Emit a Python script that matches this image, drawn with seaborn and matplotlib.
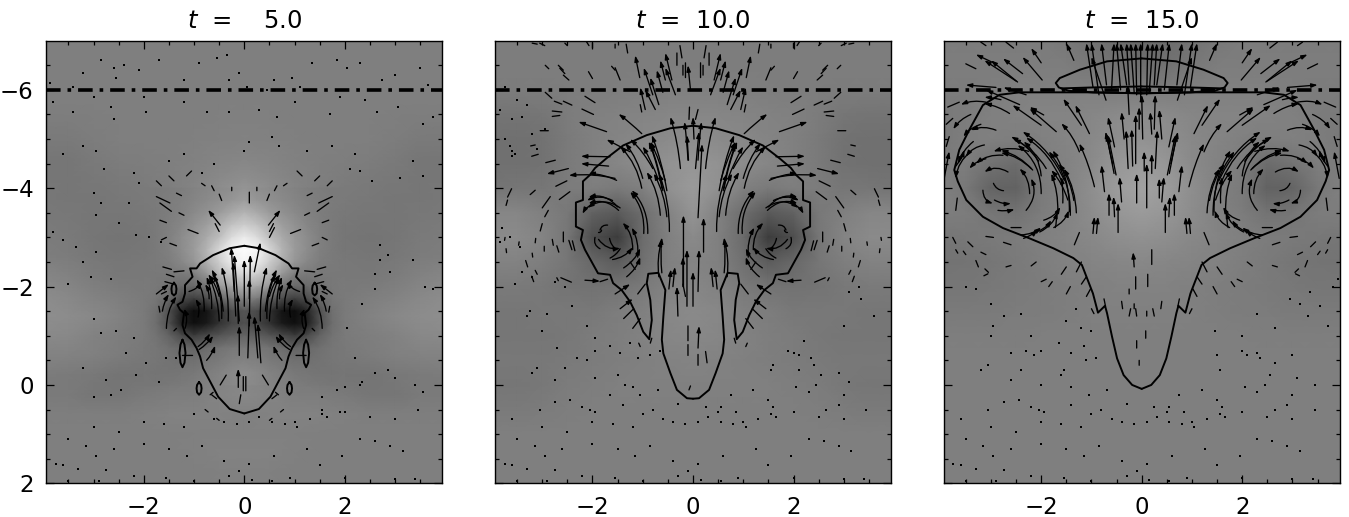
import numpy as np
import matplotlib
matplotlib.use('Agg')
import matplotlib.pyplot as plt
from matplotlib.patches import FancyArrowPatch
from matplotlib.transforms import Affine2D
import seaborn as sns

# 배경 밝기 (x = -4 ~ 0, 0.5 간격 / 오른쪽은 대칭)
gray_t5 = [  # y = -7.0 ~ 2.2, 0.4 간격
    [127, 127, 127, 127, 127, 127, 127, 127, 127],
    [127, 127, 127, 127, 127, 127, 127, 127, 127],
    [127, 127, 127, 127, 127, 127, 127, 127, 127],
    [127, 127, 127, 127, 127, 127, 127, 127, 127],
    [125, 125, 126, 127, 127, 127, 127, 128, 128],
    [122, 122, 125, 127, 127, 127, 128, 129, 130],
    [118, 118, 122, 125, 126, 127, 129, 132, 134],
    [118, 118, 120, 122, 124, 127, 131, 137, 142],
    [120, 118, 118, 120, 122, 125, 133, 144, 156],
    [121, 120, 118, 118, 120, 125, 138, 160, 185],
    [124, 122, 118, 116, 118, 122, 145, 185, 235],
    [126, 124, 120, 118, 120, 122, 140, 190, 250],
    [134, 130, 124, 120, 120, 120, 120, 170, 220],
    [140, 136, 130, 126, 122, 115, 90, 130, 170],
    [142, 140, 136, 130, 122, 90, 30, 60, 92],
    [138, 136, 130, 126, 122, 105, 70, 88, 100],
    [130, 130, 128, 124, 120, 115, 105, 118, 125],
    [124, 122, 120, 116, 116, 118, 122, 130, 135],
    [122, 122, 118, 118, 122, 125, 126, 132, 136],
    [126, 126, 126, 126, 128, 130, 130, 130, 128],
    [127, 127, 127, 127, 127, 127, 128, 128, 128],
    [127, 127, 127, 127, 127, 127, 128, 130, 130],
    [127, 127, 127, 127, 127, 127, 127, 128, 128],
    [127, 127, 127, 127, 127, 127, 127, 127, 127],
]
# 가운데 부분만 더 촘촘히 (x = -2 ~ 0, 0.25 간격 / y = -4 ~ 0, 0.25 간격)
gray_t5_core = [
    [122, 122, 124, 126, 130, 134, 138, 142, 148],
    [122, 123, 125, 128, 133, 138, 144, 150, 158],
    [120, 122, 125, 130, 138, 146, 155, 170, 180],
    [118, 122, 127, 134, 146, 158, 175, 195, 205],
    [118, 122, 128, 140, 152, 170, 190, 220, 235],
    [118, 122, 128, 140, 155, 180, 215, 245, 252],
    [120, 122, 125, 135, 150, 175, 205, 235, 245],
    [120, 120, 120, 122, 125, 150, 185, 205, 215],
    [122, 120, 115, 105, 105, 115, 150, 165, 175],
    [122, 118, 105, 75, 60, 75, 100, 120, 130],
    [122, 112, 80, 35, 12, 20, 50, 75, 85],
    [122, 110, 80, 30, 15, 25, 50, 70, 80],
    [122, 115, 100, 75, 60, 75, 85, 95, 100],
    [120, 118, 112, 105, 100, 108, 115, 120, 122],
    [120, 118, 115, 112, 112, 118, 122, 128, 130],
    [118, 116, 116, 118, 120, 125, 130, 136, 140],
    [118, 118, 120, 122, 125, 128, 132, 136, 138],
]
gray_t10 = [  # y = -7.0 ~ 2.0, 0.5 간격
    [125, 125, 125, 125, 125, 125, 125, 125, 125],
    [125, 125, 125, 125, 125, 125, 125, 125, 125],
    [124, 124, 124, 125, 125, 126, 127, 128, 128],
    [116, 116, 118, 124, 128, 130, 132, 134, 134],
    [112, 112, 114, 122, 128, 132, 136, 138, 140],
    [112, 112, 114, 122, 128, 134, 140, 146, 150],
    [116, 118, 118, 124, 126, 122, 128, 144, 154],
    [134, 134, 128, 120, 98, 90, 110, 130, 148],
    [138, 138, 132, 118, 78, 60, 108, 128, 138],
    [130, 130, 126, 118, 104, 92, 112, 128, 132],
    [122, 122, 120, 116, 114, 116, 122, 130, 135],
    [118, 118, 120, 120, 120, 125, 128, 135, 138],
    [118, 118, 118, 120, 124, 126, 130, 134, 136],
    [120, 120, 120, 122, 124, 126, 128, 130, 132],
    [118, 118, 120, 124, 126, 128, 128, 128, 128],
    [122, 122, 124, 126, 127, 127, 127, 127, 127],
    [127, 127, 127, 127, 127, 127, 127, 127, 127],
    [127, 127, 127, 127, 127, 127, 127, 127, 127],
    [127, 127, 127, 127, 127, 127, 127, 127, 127],
]
gray_t15 = [  # y = -7.0 ~ 2.0, 0.5 간격
    [124, 124, 124, 124, 124, 120, 114, 108, 104],
    [125, 125, 125, 125, 125, 125, 120, 114, 110],
    [124, 124, 126, 128, 128, 128, 128, 125, 125],
    [122, 124, 128, 130, 132, 132, 134, 138, 140],
    [120, 126, 128, 126, 128, 132, 136, 142, 146],
    [124, 125, 115, 108, 124, 130, 138, 150, 156],
    [128, 120, 100, 98, 122, 130, 142, 156, 162],
    [126, 124, 118, 115, 124, 130, 140, 150, 155],
    [118, 120, 122, 124, 128, 132, 136, 142, 145],
    [115, 116, 118, 122, 126, 130, 132, 134, 136],
    [118, 118, 120, 122, 124, 126, 128, 130, 130],
    [122, 122, 122, 124, 124, 126, 128, 128, 128],
    [126, 126, 126, 126, 127, 127, 127, 127, 127],
    [127, 127, 127, 127, 127, 127, 127, 127, 127],
    [127, 127, 127, 127, 127, 127, 127, 127, 127],
    [127, 127, 127, 127, 127, 127, 127, 127, 127],
    [127, 127, 127, 127, 127, 127, 127, 127, 127],
    [127, 127, 127, 127, 127, 127, 127, 127, 127],
    [127, 127, 127, 127, 127, 127, 127, 127, 127],
]

# 외곽선 왼쪽 절반 (x, y)
contour_t5 = [(0, -2.83), (-0.29, -2.78), (-0.62, -2.64), (-0.88, -2.47), (-0.95, -2.37), (-1.08, -2.37),
              (-1.03, -2.2), (-1.18, -2.03), (-1.18, -1.86), (-1.23, -1.69), (-1.33, -1.63), (-1.28, -1.53),
              (-1.2, -1.46), (-1.23, -1.22), (-1.18, -1.05), (-1.05, -0.92), (-0.95, -0.75), (-0.88, -0.58),
              (-0.82, -0.34), (-0.68, -0.07), (-0.52, 0.24), (-0.29, 0.49), (0, 0.58)]
loops_t5 = [
    [(-1.4, -2.08), (-1.36, -2.02), (-1.35, -1.95), (-1.36, -1.86), (-1.4, -1.82), (-1.44, -1.86), (-1.45, -1.95),
     (-1.44, -2.02), (-1.4, -2.08)],
    [(-1.23, -0.92), (-1.19, -0.82), (-1.17, -0.65), (-1.19, -0.45), (-1.23, -0.36), (-1.27, -0.45), (-1.29, -0.65),
     (-1.27, -0.82), (-1.23, -0.92)],
    [(-0.9, -0.06), (-0.86, 0), (-0.85, 0.07), (-0.86, 0.15), (-0.9, 0.2), (-0.94, 0.15), (-0.95, 0.07), (-0.94, 0),
     (-0.9, -0.06)],
]
contour_t10 = [(0, -5.27), (-0.45, -5.22), (-0.92, -5.08), (-1.39, -4.87), (-1.72, -4.61), (-1.95, -4.41),
               (-2.05, -4.27), (-2.19, -4.14), (-2.19, -3.76), (-2.33, -3.71), (-2.33, -3.22), (-2.19, -3.15),
               (-2.23, -2.95), (-2.15, -2.75), (-2.02, -2.51), (-1.89, -2.27), (-1.65, -2.24), (-1.59, -2.07),
               (-1.42, -1.93), (-1.25, -1.69), (-1.12, -1.42), (-0.99, -1.08), (-0.87, -0.93), (-0.82, -1.32),
               (-0.85, -1.73), (-0.92, -2.07), (-0.89, -2.26), (-0.69, -2.28), (-0.55, -1.93), (-0.59, -1.39),
               (-0.62, -0.92), (-0.59, -0.64), (-0.45, -0.24), (-0.32, 0.1), (-0.12, 0.27), (0, 0.28)]
contour_t15 = [(0, -5.93), (-1.09, -5.95), (-2.43, -5.95), (-2.83, -5.9), (-3.16, -5.69), (-3.43, -5.19),
               (-3.63, -4.78), (-3.73, -4.37), (-3.66, -4.14), (-3.49, -3.76), (-3.16, -3.42), (-2.76, -3.19),
               (-2.23, -2.98), (-1.76, -2.78), (-1.36, -2.58), (-1.19, -2.44), (-0.97, -1.86), (-0.87, -1.47),
               (-0.73, -1.61), (-0.69, -1.46), (-0.59, -0.98), (-0.49, -0.54), (-0.36, -0.2), (-0.19, 0), (0, 0.08)]
lens_t15 = [(0, -6.64), (-0.69, -6.58), (-1.23, -6.41), (-1.63, -6.24), (-1.71, -6.14), (-1.65, -6.05), (-1.45, -5.98),
            (-0.96, -5.95), (0, -5.93)]
lens2_t15 = [(-1.6, -6.03), (-0.96, -6.05), (0, -6.07)]

# 화살표: 시작 x, y, 끝 x, y, 곡률 (side 는 좌우 대칭으로 그림)
center_t5 = [
    (-0.1, -0.6, -0.1, -1.2, 0), (-0.12, -1.25, -0.13, -1.85, 0), (-0.17, -1.4, -0.22, -2.5, 0),
    (-0.2, -1.9, -0.26, -2.8, 0), (0, -1.6, 0, -2.55, 0), (0.07, -0.55, 0.1, -1.5, 0),
    (0.1, -1.75, 0.1, -2.15, 0), (0.27, -0.55, 0.2, -1.4, 0), (0.33, -0.45, 0.27, -1.25, 0),
    (-0.12, 0.05, -0.12, -0.33, 0), (-0.02, 0.12, -0.02, -0.17, 0), (0.03, 0.12, 0.03, -0.17, 0),
    (-0.1, 0.38, -0.07, 0.2, 0), (0.2, -2.3, 0.32, -2.9, 0), (0.1, -1.2, 0.12, -2.65, 0),
    (-0.1, -1.3, -0.2, -2.65, 0), (0.5, -3.0, 0.6, -3.2, 0), (0.1, -3.7, 0.1, -3.92, 0),
]
side_t5 = [
    (-0.48, -3.25, -0.72, -3.56, 0), (-0.5, -3.12, -0.58, -3.28, 0), (-0.92, -3.08, -1.12, -3.16, 0),
    (-1.48, -3.7, -1.75, -3.83, 0), (-1.45, -3.53, -1.68, -3.7, 0), (-1.35, -2.83, -1.48, -2.88, 0),
    (-0.32, -1.3, -0.45, -2.4, 0.08), (-0.42, -1.5, -0.65, -2.35, 0.1), (-0.5, -1.8, -0.72, -2.25, 0.1),
    (-0.5, -1.3, -0.7, -2.2, 0.1), (-0.45, -1.35, -0.62, -2.25, 0.12), (-0.65, -1.55, -0.75, -2.2, 0.1),
    (-0.92, -1.38, -0.97, -1.75, 0.2), (-1.18, -1.15, -1.2, -1.55, 0.2), (-0.7, -1.75, -0.78, -2.05, 0.15),
    (-0.92, -0.78, -0.68, -1.05, 0.1), (-0.75, -0.5, -0.58, -0.8, 0.1), (-0.48, 0, -0.36, -0.2, 0),
    (-0.9, -0.72, -0.62, -1.0, 0.1), (-1.23, -0.6, -1.03, -0.6, 0), (-0.68, 0.2, -0.62, 0.15, 0),
    (-1.1, -1.9, -0.85, -2.1, 0.2), (-0.8, -1.5, -0.95, -2.15, 0.15),
    (-1.55, -1.15, -1.35, -1.8, -0.15), (-1.63, -1.5, -1.5, -1.85, -0.1), (-1.75, -1.85, -1.5, -2.05, 0),
    (-1.45, -2.35, -1.62, -2.4, 0), (-1.4, -2.2, -1.55, -2.25, 0), (-1.2, -2.32, -1.4, -2.3, 0),
    (-1.4, -2.05, -1.58, -2.1, 0), (-1.7, -1.6, -1.68, -1.48, 0), (-1.55, -1.9, -1.65, -1.85, 0),
    (-0.6, -3.95, -0.65, -4.05, 0), (-0.78, -4.05, -0.85, -4.1, 0), (-1.55, -3.3, -1.68, -3.35, 0),
    (-1.4, -4.15, -1.5, -4.25, 0), (-0.45, -3.75, -0.5, -3.88, 0), (-0.25, -3.95, -0.25, -4.02, 0),
    (-0.55, 0.28, -0.65, 0.2, 0), (-0.78, 0.5, -0.72, 0.55, 0), (-0.5, 0.72, -0.55, 0.68, 0),
    (-1.4, -1.1, -1.35, -1.15, 0), (-1.2, -3.45, -1.3, -3.5, 0), (-1.25, -3.85, -1.35, -3.9, 0),
    (-1.15, -4.25, -1.05, -4.35, 0), (-1.65, -4.05, -1.75, -4.15, 0), (-1.65, -2.95, -1.55, -3.0, 0),
]
center_t10 = [
    (-0.19, -2.0, -0.19, -3.45, 0), (0.21, -2.7, 0.21, -3.4, 0), (-0.12, -1.6, -0.12, -2.75, 0),
    (0.1, -1.9, 0.12, -2.75, 0), (-0.2, -2.0, -0.2, -2.6, 0), (0, -1.6, 0, -2.3, 0),
    (0.1, -3.4, 0.18, -4.9, 0), (0.05, -4.4, 0.12, -5.15, 0), (-0.09, -4.57, -0.12, -5.08, 0),
    (0.1, -0.75, 0.12, -1.2, 0), (-0.1, -0.9, -0.1, -1.2, 0), (0.1, -0.4, 0.1, -0.62, 0),
    (0.28, -0.45, 0.25, -0.68, 0), (-0.08, 0.1, -0.05, 0.02, 0), (-0.1, -0.6, -0.1, -0.82, 0),
    (0.02, -5.0, 0, -5.45, 0), (-0.08, -5.4, -0.07, -5.65, 0), (-0.05, -6.0, -0.1, -6.5, 0),
    (0.05, -5.4, 0.1, -5.6, 0), (-0.15, -1.8, -0.2, -2.05, 0), (-0.3, -1.4, -0.32, -2.0, 0),
]
side_t10 = [
    (-1.02, -5.11, -1.48, -5.51, 0.03), (-1.72, -5.15, -2.28, -5.35, 0), (-1.25, -4.74, -1.72, -4.99, 0),
    (-1.98, -5.5, -2.21, -5.61, 0), (-1.95, -5.74, -2.15, -5.87, 0), (-2.41, -5.69, -2.58, -5.77, 0),
    (-2.61, -5.71, -2.76, -5.77, 0), (-2.81, -5.83, -2.94, -5.95, 0), (-2.65, -5.48, -2.8, -5.46, 0),
    (-2.61, -5.55, -2.8, -5.57, 0), (-2.88, -5.17, -3.04, -5.17, 0), (-3.14, -4.88, -3.23, -4.86, 0),
    (-3.08, -4.69, -3.21, -4.65, 0), (-2.74, -4.57, -2.93, -4.52, 0),
    (-1.65, -4.64, -2.23, -4.65, 0), (-1.68, -4.45, -2.23, -4.5, 0), (-2.48, -4.4, -2.91, -4.29, 0),
    (-1.52, -4.16, -2.08, -4.3, 0.1), (-1.55, -4.2, -2.47, -4.26, 0.08), (-2.51, -4.15, -2.73, -4.04, 0),
    (-2.45, -3.93, -2.66, -3.77, 0), (-3.14, -3.96, -3.24, -3.87, 0), (-2.84, -3.83, -3.0, -3.6, 0),
    (-2.88, -3.55, -2.95, -3.42, 0), (-3.0, -3.28, -3.04, -3.13, 0), (-3.61, -3.99, -3.69, -3.82, 0),
    (-3.69, -3.76, -3.72, -3.65, 0), (-3.74, -3.0, -3.75, -2.94, 0), (-3.46, -2.91, -3.47, -2.84, 0),
    (-3.13, -2.98, -3.14, -2.89, 0), (-2.8, -2.96, -2.78, -2.84, 0), (-2.58, -3.11, -2.58, -2.91, 0),
    (-2.71, -2.83, -2.67, -2.7, 0), (-2.47, -2.94, -2.41, -2.75, 0), (-2.4, -2.93, -2.35, -2.73, 0),
    (-2.96, -2.82, -2.96, -2.72, 0), (-3.2, -2.68, -3.19, -2.6, 0), (-3.72, -2.77, -3.71, -2.69, 0),
    (-3.33, -2.53, -3.29, -2.4, 0), (-3.14, -2.33, -3.1, -2.25, 0), (-3.21, -2.21, -3.17, -2.1, 0),
    (-2.63, -2.18, -2.42, -2.09, 0), (-2.15, -2.13, -1.85, -2.11, 0), (-2.71, -2.18, -2.68, -2.12, 0),
    (-1.48, -3.55, -2.08, -3.69, 0.3), (-1.5, -3.62, -2.08, -3.82, 0.3), (-1.6, -3.75, -2.11, -3.75, 0.25),
    (-1.95, -3.69, -2.2, -3.48, 0.2), (-1.95, -3.0, -1.85, -2.77, 0.4), (-1.88, -3.1, -1.82, -3.15, 0.5),
    (-1.7, -3.25, -1.85, -3.15, 0.4), (-1.88, -2.96, -1.45, -2.78, 0.3), (-1.66, -2.98, -1.53, -2.76, 0.2),
    (-1.65, -2.58, -1.45, -2.77, 0.15), (-1.38, -2.38, -1.05, -2.78, 0.15), (-1.32, -2.2, -1.05, -2.6, 0.15),
    (-1.15, -2.35, -1.25, -2.5, 0), (-0.98, -3.08, -1.25, -3.93, 0.2), (-0.9, -3.08, -1.22, -3.96, 0.2),
    (-0.65, -3.45, -0.92, -4.33, 0.12), (-0.52, -3.42, -0.78, -4.3, 0.1), (-0.47, -3.12, -0.68, -4.3, 0.1),
    (-0.25, -4.4, -0.45, -5.45, 0.05), (-0.1, -4.57, -0.17, -5.35, 0.02), (-0.52, -3.95, -0.82, -5.08, 0.05),
    (-0.55, -4.15, -0.85, -4.95, 0.05), (-0.6, -3.95, -0.85, -4.9, 0.05), (-0.62, -4.0, -0.88, -4.95, 0.05),
    (-1.02, -4.0, -1.45, -4.85, 0.15), (-1.0, -4.2, -1.35, -4.92, 0.1), (-0.62, -2.28, -0.62, -3.0, -0.05),
    (-0.68, -2.2, -0.62, -2.95, -0.1), (-0.95, -2.05, -1.1, -1.85, 0), (-1.85, -2.1, -1.7, -2.15, 0),
    (-0.4, -2.0, -0.36, -2.4, 0), (-0.48, -1.95, -0.44, -2.35, 0), (-1.55, -1.85, -1.25, -2.05, 0),
    (-1.45, -1.55, -1.2, -1.75, 0), (-1.38, -1.35, -1.18, -1.55, 0), (-1.2, -1.15, -1.05, -1.35, 0),
    (-0.82, -0.95, -0.85, -0.85, 0), (-1.08, -0.85, -1.05, -0.78, 0),
    (-1.45, -3.6, -2.1, -3.6, 0.35), (-1.2, -2.75, -1.4, -3.3, 0.2), (-1.1, -2.6, -1.22, -3.2, 0.15),
    (-1.6, -2.55, -1.2, -2.8, 0.2), (-0.8, -4.4, -1.25, -5.0, 0.08), (-0.7, -4.2, -1.0, -4.85, 0.05),
    # 위쪽
    (-1.02, -5.55, -1.05, -5.7, 0), (-0.95, -5.6, -1.05, -6.05, 0), (-0.75, -5.6, -0.95, -6.0, 0),
    (-0.8, -5.9, -0.98, -6.45, 0), (-0.68, -5.7, -0.85, -6.25, 0), (-0.42, -6.2, -0.55, -6.75, 0),
    (-0.35, -5.9, -0.55, -6.45, 0), (-0.2, -6.3, -0.2, -6.5, 0), (-0.15, -6.25, -0.15, -6.55, 0),
    (-0.32, -6.5, -0.32, -6.75, 0), (-0.22, -6.65, -0.26, -6.9, 0), (-1.06, -6.25, -1.15, -6.7, 0),
    (-1.3, -6.75, -1.33, -6.93, 0), (-1.45, -6.2, -1.55, -6.45, 0), (-1.55, -6.4, -1.62, -6.48, 0),
    (-2.0, -6.23, -2.08, -6.37, 0), (-2.55, -6.33, -2.65, -6.44, 0), (-2.47, -6.2, -2.58, -6.3, 0),
    (-2.58, -6.4, -2.68, -6.5, 0), (-2.87, -6.43, -2.94, -6.5, 0), (-2.95, -6.9, -3.05, -6.95, 0),
    (-3.1, -6.93, -3.2, -6.95, 0), (-2.5, -6.9, -2.55, -6.95, 0), (-2.07, -6.9, -2.12, -6.98, 0),
    (-2.0, -6.95, -2.0, -6.85, 0), (-1.55, -6.93, -1.55, -6.85, 0), (-0.55, -6.2, -0.65, -6.6, 0),
    (-0.6, -5.95, -0.72, -6.4, 0),
]
dots_upper_t10 = [(-3.75, -6.05), (-3.5, -5.8), (-3.3, -5.7), (-3.85, -5.6), (-3.6, -5.4), (-3.4, -5.45), (-3.2, -5.1),
                  (-3.75, -5.0), (-3.6, -4.65), (-3.65, -4.85), (-3.6, -4.75), (-3.55, -4.7), (-3.1, -4.8), (-2.95, -5.2),
                  (-3.8, -3.2), (-3.65, -3.0), (-3.85, -2.9), (-3.45, -2.8), (-3.4, -2.3), (-3.55, -2.05), (-3.2, -2.2),
                  (-2.75, -2.1), (-2.55, -2.0), (-2.4, -1.6), (-2.1, -1.2), (-1.95, -0.95), (-2.9, -1.45), (-3.25, -1.5),
                  (-3.3, -1.4), (-3.0, -1.1), (-2.7, -0.75), (-2.1, -0.5), (-1.95, -0.7), (-1.65, -0.8), (-1.25, -0.85),
                  (-1.45, -0.65), (-2.3, -0.55), (-1.1, -0.55), (-0.85, -0.6), (-0.65, -0.7), (-3.1, -0.35), (-3.2, -0.25),
                  (-2.55, -0.35), (-2.75, -0.1), (-1.95, -0.15), (-1.5, -0.2), (-1.35, 0.0), (-1.65, 0.2), (-1.2, 0.05),
                  (3.1, -1.9), (3.3, -2.0), (3.35, -1.75), (3.6, -1.4), (3.0, -1.2), (2.2, -0.9), (2.0, -0.65), (1.9, -0.7),
                  (1.6, -0.4), (2.1, -0.3), (2.4, -0.4), (2.9, -0.25), (3.1, -0.05)]
dots_lower = [(-3.05, 0.5), (-2.75, 0.35), (-2.45, 0.3), (-2.2, 0.45), (-2.05, 0.5), (-1.95, 0.55), (-1.4, 0.4),
              (-1.05, 0.2), (-0.8, 0.5), (-0.7, 0.1), (-0.3, 0.38), (0.25, 0.45), (0.55, 0.45), (0.5, 0.55),
              (0.85, 0.55), (0.75, 0.2), (1.2, 0.1), (1.5, 0.3), (1.6, 0.45), (2.05, 0.05), (2.3, 0.15), (2.45, 0.0),
              (2.55, -0.2), (2.35, -0.55), (2.1, -0.6), (1.55, -0.3), (2.65, 0.5), (2.9, 0.4), (3.0, 0.2),
              (-3.6, 0.7), (-3.0, 0.85), (-2.5, 0.95), (-2.0, 0.75), (-1.6, 0.8), (-1.2, 0.85), (-1.0, 0.6), (-0.6, 0.7),
              (-0.4, 0.75), (-0.15, 0.8), (0.1, 0.75), (0.3, 0.65), (0.55, 0.75), (0.8, 0.8), (1.0, 0.75), (1.05, 0.85),
              (1.3, 0.7), (1.55, 0.6), (1.65, 0.65), (2.0, 0.55), (2.5, 0.65), (3.0, 0.7), (3.45, 0.5),
              (-3.5, 1.1), (-3.15, 1.25), (-2.95, 1.45), (-2.6, 1.3), (-2.0, 1.2), (-1.5, 1.3), (-1.15, 1.45),
              (-0.85, 1.25), (-0.4, 1.55), (0.1, 1.6), (0.6, 1.45), (1.25, 1.3), (1.95, 1.45), (2.3, 1.1), (2.6, 1.15),
              (2.9, 1.25), (3.15, 1.35), (-3.75, 1.6), (-3.6, 1.62), (-3.3, 1.7), (-2.75, 1.72), (-2.2, 1.85),
              (-1.55, 1.9), (-1.0, 1.95), (-0.3, 1.85), (0.15, 1.93), (0.55, 1.95), (0.9, 1.9), (2.0, 1.9), (3.0, 1.92),
              (3.4, 1.92), (-3.5, 1.95), (-2.9, 1.95), (-0.1, 1.75), (1.5, 1.62)]
center_t15 = [
    (0.1, -3.6, 0.1, -4.5, 0), (-0.12, -4.5, -0.12, -5.5, 0), (0.05, -4.35, 0.05, -4.75, 0),
    (-0.18, -4.45, -0.2, -5.2, 0), (0.02, -5.0, 0, -5.9, 0), (-0.05, -5.2, -0.05, -5.65, 0),
    (0.4, -5.0, 0.35, -5.6, 0), (-0.35, -5.0, -0.4, -5.55, 0), (0.2, -5.1, 0.17, -5.55, 0),
    (0.2, -4.3, 0.2, -4.7, 0), (-0.15, -2.4, -0.17, -2.7, 0), (0.2, -2.45, 0.2, -2.75, 0),
    (0.12, -2.0, 0.12, -2.25, 0), (-0.12, -1.95, -0.12, -2.2, 0), (-0.15, -1.55, -0.15, -1.65, 0),
    (-0.25, -1.85, -0.25, -1.95, 0), (0.1, -1.4, 0.1, -1.5, 0), (-0.1, -1.4, -0.12, -1.55, 0),
    (0.08, -0.95, 0.08, -1.1, 0), (-0.1, -0.75, -0.1, -0.9, 0), (-0.05, -0.4, -0.05, -0.5, 0),
    (-0.02, -5.8, -0.02, -6.95, 0), (0.3, -6.1, 0.42, -6.95, 0), (-0.3, -6.1, -0.42, -6.95, 0),
    (-0.15, -5.95, -0.22, -6.95, 0), (0.15, -5.95, 0.22, -6.95, 0), (-0.42, -6.0, -0.5, -6.95, 0),
    (0.45, -6.0, 0.55, -6.95, 0), (-0.6, -6.0, -0.55, -6.95, 0), (-0.25, -5.5, -0.28, -6.1, 0),
    (0.25, -5.2, 0.27, -5.9, 0), (-0.1, -3.7, -0.1, -4.3, 0), (0.35, -3.8, 0.35, -4.2, 0),
]
side_t15 = [
    (-2.86, -3.55, -2.53, -3.57, 0.1), (-2.93, -3.76, -2.6, -3.69, 0.15), (-3.16, -3.96, -2.96, -3.69, 0.35),
    (-2.66, -4.33, -3.13, -4.33, 0.3), (-2.23, -3.89, -2.43, -4.4, 0.2), (-2.0, -3.89, -2.47, -4.88, 0.25),
    (-2.17, -4.37, -2.8, -4.77, 0.15), (-2.2, -4.4, -2.8, -4.72, 0.15), (-2.76, -4.67, -3.3, -4.5, 0.2),
    (-3.1, -4.6, -3.43, -4.4, 0.15), (-3.13, -4.88, -3.5, -4.64, 0.2), (-2.9, -5.18, -3.4, -5.18, 0.2),
    (-1.54, -4.16, -2.37, -5.15, 0.15), (-1.6, -4.16, -2.3, -5.03, 0.15), (-1.44, -3.52, -1.77, -4.77, 0.15),
    (-1.47, -3.76, -1.8, -4.37, 0.1), (-1.57, -3.7, -1.6, -4.23, 0.05), (-1.67, -3.52, -1.8, -4.3, 0.1),
    (-2.03, -3.11, -1.67, -3.52, 0.2), (-2.35, -2.98, -2.07, -3.15, 0.1), (-1.72, -3.2, -1.7, -3.45, 0.1),
    (-2.6, -3.2, -2.4, -3.2, 0), (-3.1, -3.02, -2.95, -3.0, 0), (-2.75, -2.9, -2.6, -2.85, 0),
    (-1.98, -6.2, -2.37, -6.67, 0), (-2.37, -6.33, -2.76, -6.64, 0), (-2.47, -6.16, -3.0, -6.6, 0),
    (-2.5, -6.18, -3.13, -6.6, 0), (-3.3, -6.43, -3.5, -6.53, 0), (-2.63, -5.52, -3.13, -5.72, 0.1),
    (-2.8, -5.8, -3.13, -5.85, 0.05), (-2.0, -5.28, -2.57, -5.69, 0), (-1.95, -5.49, -2.23, -5.65, 0),
    (-1.7, -5.15, -2.23, -5.62, 0), (-2.43, -5.7, -3.1, -6.0, 0), (-2.3, -5.9, -2.75, -6.05, 0),
    (-2.9, -6.05, -3.5, -6.1, 0), (-3.1, -5.75, -3.6, -5.7, 0.15), (-1.24, -4.74, -1.6, -5.32, 0.1),
    (-1.04, -5.11, -1.32, -5.69, 0), (-1.2, -5.28, -1.56, -5.82, 0), (-0.94, -4.03, -1.24, -4.91, 0.05),
    (-0.74, -3.93, -0.8, -4.47, 0), (-0.71, -5.79, -1.0, -6.67, 0), (-0.97, -6.06, -1.1, -6.95, 0),
    (-0.54, -4.84, -0.67, -5.45, 0), (-0.51, -4.27, -0.67, -5.08, 0), (-0.55, -4.3, -0.7, -5.1, 0),
    (-0.58, -4.5, -0.72, -5.15, 0), (-0.27, -4.4, -0.31, -5.18, 0), (-0.4, -3.72, -0.44, -4.23, 0),
    (-0.65, -3.45, -0.65, -3.9, 0), (-0.54, -3.42, -0.56, -3.83, 0), (-0.47, -3.1, -0.47, -3.7, 0),
    (-0.97, -3.08, -0.94, -3.42, 0), (-0.9, -3.08, -0.87, -3.42, 0), (-1.34, -2.85, -1.24, -3.1, 0),
    (-2.0, -6.55, -2.2, -6.85, 0), (-2.95, -6.55, -3.3, -6.72, 0), (-1.35, -6.6, -1.5, -6.95, 0),
    (-2.55, -6.85, -2.7, -6.97, 0), (-3.1, -6.9, -3.2, -6.97, 0),
    (-3.86, -5.65, -3.63, -5.75, 0), (-3.89, -5.3, -3.76, -5.42, 0), (-3.89, -4.85, -3.83, -5.05, 0),
    (-3.93, -4.2, -3.83, -4.75, 0), (-3.7, -4.45, -3.53, -4.78, 0.1), (-3.7, -3.55, -3.67, -3.8, 0),
    (-3.76, -3.0, -3.7, -2.88, 0), (-3.46, -2.91, -3.36, -2.81, 0), (-3.7, -2.75, -3.66, -2.68, 0),
    (-3.55, -2.72, -3.5, -2.65, 0), (-3.2, -2.7, -3.1, -2.65, 0), (-3.3, -2.53, -3.25, -2.4, 0),
    (-3.12, -2.36, -3.05, -2.29, 0), (-3.14, -2.22, -3.06, -2.26, 0), (-2.7, -2.4, -2.6, -2.43, 0),
    (-2.2, -2.42, -2.1, -2.5, 0), (-2.0, -2.1, -1.9, -2.15, 0), (-1.6, -2.25, -1.5, -2.4, 0),
    (-1.3, -2.3, -1.2, -2.5, 0), (-1.2, -2.05, -1.1, -2.2, 0), (-1.5, -1.85, -1.42, -2.0, 0),
    (-1.1, -1.8, -1.02, -1.95, 0), (-1.85, -2.0, -1.78, -2.1, 0), (-1.0, -1.55, -0.95, -1.45, 0),
    (-0.4, -1.7, -0.38, -1.55, 0), (-0.75, -1.75, -0.72, -1.6, 0), (-0.25, -1.4, -0.22, -1.55, 0),
    (-1.3, -3.5, -1.55, -4.4, 0.12), (-1.35, -3.75, -1.65, -4.5, 0.12), (-1.42, -3.45, -1.85, -4.75, 0.18),
    (-1.75, -3.2, -1.45, -3.55, 0.2), (-2.15, -3.1, -1.8, -3.35, 0.2), (-1.95, -3.35, -1.62, -3.62, 0.2),
    (-2.4, -3.05, -2.0, -3.2, 0.15), (-2.05, -4.55, -2.6, -5.05, 0.12), (-1.9, -4.4, -2.55, -5.0, 0.15),
    (-2.0, -4.25, -2.35, -4.95, 0.2), (-2.25, -4.75, -2.95, -4.75, 0.15), (-3.4, -4.75, -3.7, -4.2, 0.2),
    (-3.35, -4.95, -3.65, -4.5, 0.15), (-3.4, -5.5, -3.75, -5.2, 0.15), (-3.2, -5.3, -3.55, -5.05, 0.15),
    (-2.3, -3.55, -2.2, -4.2, 0.3), (-2.95, -4.1, -2.75, -3.95, 0.3), (-0.7, -6.1, -0.8, -6.95, 0),
    (-0.85, -5.9, -1.0, -6.95, 0), (-0.25, -6.1, -0.3, -6.95, 0), (-0.1, -5.9, -0.12, -6.95, 0),
]
dots_upper_t15 = [(-3.5, -2.0), (-3.3, -1.95), (-3.0, -1.65), (-2.75, -1.4), (-2.95, -1.2), (-2.4, -1.45), (-2.2, -1.0),
                  (-2.3, -0.7), (-2.6, -0.65), (-2.15, -0.6), (-2.0, -0.7), (-1.65, -0.85), (-1.4, -0.65), (-1.15, -0.8),
                  (-1.1, -0.5), (-0.9, -0.55), (-1.55, -0.3), (-1.5, -1.3), (-1.3, -1.55), (-1.2, -1.15), (-1.0, -1.1),
                  (-3.05, -0.4), (-3.2, -0.3), (-3.0, -1.0), (-2.6, -0.1), (-2.4, -0.3), (-2.0, 0.0), (-1.6, -0.2),
                  (-1.4, 0.05), (-1.05, 0.2), (2.0, -1.0), (2.3, -1.45), (2.65, -1.15), (2.95, -1.75), (3.15, -1.65),
                  (3.3, -1.4), (3.55, -1.6), (3.35, -1.9), (3.7, -1.2), (3.8, -2.0), (3.9, -2.15), (2.3, -0.65),
                  (1.5, -0.6), (1.45, -1.1), (2.0, -0.7), (2.65, -0.45), (3.1, -0.15), (3.0, -0.6), (3.45, 0.0)]
dots_t5 = [(-3.87, -6.15), (-3.4, -6.05), (-3.2, -6.35), (-2.85, -6.6), (-2.6, -6.45), (-2.55, -6.25), (-2.4, -6.5),
           (-2.1, -6.4), (-1.7, -6.6), (-1.2, -6.2), (-0.9, -6.55), (-0.55, -6.65), (-0.35, -6.7), (-0.3, -6.2),
           (-0.1, -6.35), (0.05, -6.05), (0.45, -6.0), (0.6, -6.2), (0.95, -6.25), (1.1, -6.05), (1.35, -6.55),
           (1.85, -6.6), (2.05, -6.45), (2.3, -6.55), (2.75, -6.2), (3.0, -6.3), (3.5, -6.45), (3.65, -6.1),
           (-3.8, -5.75), (-3.4, -5.55), (-3.0, -5.85), (-2.65, -5.65), (-2.6, -5.4), (-2.0, -5.85), (-1.95, -5.55),
           (-1.2, -5.75), (-0.75, -5.55), (-0.3, -5.55), (0.3, -5.6), (0.65, -5.45), (1.0, -5.75), (1.7, -5.5),
           (1.9, -5.85), (2.4, -5.8), (2.65, -5.55), (3.05, -5.65), (3.55, -5.3), (3.75, -5.45),
           (-3.6, -4.7), (-3.2, -4.85), (-2.95, -4.75), (-2.8, -4.4), (-2.2, -4.3), (-2.1, -4.1), (-1.5, -4.55),
           (-1.2, -4.7), (-0.85, -4.3), (-0.6, -4.5), (0.0, -4.75), (0.1, -4.95), (0.55, -5.05), (0.7, -4.85),
           (1.25, -4.75), (1.75, -4.85), (2.2, -4.7), (2.3, -4.35), (2.1, -4.4), (2.55, -4.15), (3.1, -4.2),
           (3.35, -4.55), (3.55, -4.25), (-3.8, -3.1), (-3.6, -2.95), (-3.35, -2.8), (-3.2, -2.5), (-2.95, -2.7),
           (-2.65, -2.15), (-3.05, -2.2), (-3.5, -2.05), (-2.5, -3.3), (-2.15, -3.05), (-1.9, -3.0), (-1.65, -2.9),
           (-2.95, -3.45), (-2.3, -3.7), (-3.0, -3.9), (-2.85, -3.7), (2.7, -2.55), (2.7, -2.85), (2.6, -2.25),
           (2.85, -2.65), (2.9, -2.3), (2.6, -1.95), (2.35, -1.65), (3.35, -2.55), (3.6, -2.0), (3.75, -1.95),
           (-3.0, -1.35), (-2.85, -1.05), (-2.55, -1.1), (-2.2, -0.95), (-1.95, -0.45), (-1.55, -0.55), (-1.35, -0.55),
           (-2.35, -0.65), (-3.2, -0.35), (-2.75, -0.1), (-2.45, 0.1), (-2.65, 0.2), (-3.0, 0.25), (-2.15, -0.2),
           (-1.7, -0.05), (2.2, -0.55), (2.35, -0.05), (2.05, -1.15), (2.6, -0.25), (2.85, -0.3), (3.0, -0.15),
           (3.4, 0.0), (3.55, 0.15), (2.0, 0.05), (1.85, 0.1), (2.3, 0.0), (1.55, 0.25), (1.55, 0.5), (1.9, 0.55)] + dots_lower[30:]


def mirror(rows):
    return [(-x0, y0, -x1, y1, -r) for x0, y0, x1, y1, r in rows]


def draw_arrows(ax, rows):
    for x0, y0, x1, y1, rad in rows:
        # 짧은 화살표는 머리 없이
        style = '-|>,head_length=0.35,head_width=0.12' if np.hypot(x1 - x0, y1 - y0) > 0.3 else '-'
        ax.add_patch(FancyArrowPatch((x0, y0), (x1, y1), connectionstyle=f'arc3,rad={rad}', arrowstyle=style,
                                     mutation_scale=10, lw=0.95, color='k', shrinkA=0, shrinkB=0, zorder=3))


def draw_outline(ax, pts):
    x = [p[0] for p in pts]
    y = [p[1] for p in pts]
    sns.lineplot(x=x, y=y, sort=False, estimator=None, color='k', lw=1.4, ax=ax, legend=False, zorder=4)


def draw_field(ax, gray, dx, dy, x0, y0):
    half = np.array(gray, dtype=float)
    full = np.hstack([half, half[:, -2::-1]])
    sns.heatmap(full, cmap='gray', vmin=0, vmax=255, cbar=False, xticklabels=False, yticklabels=False,
                shading='gouraud', ax=ax)
    # heatmap 은 칸 번호 좌표이므로 실제 좌표로 옮김
    ax.collections[-1].set_transform(Affine2D().scale(dx, dy).translate(x0, y0) + ax.transData)


def draw_panel(ax, gray, dy, title, lines, arrows, dots, core=None):
    draw_field(ax, gray, 0.5, dy, -4, -7)
    if core is not None:
        draw_field(ax, core, 0.25, 0.25, -2, -4)

    sns.scatterplot(x=[d[0] for d in dots], y=[d[1] for d in dots], marker='s', s=3, color='k', linewidth=0,
                    ax=ax, legend=False, zorder=3)
    draw_arrows(ax, arrows)
    for pts in lines:
        draw_outline(ax, pts)
        draw_outline(ax, [(-x, y) for x, y in pts])

    sns.lineplot(x=[-3.94, 3.94], y=[-6, -6], color='k', lw=2.6, linestyle=(0, (10.5, 5, 2.6, 5)), ax=ax,
                 legend=False, zorder=3)

    ax.set_xlim(-3.94, 3.94)
    ax.set_ylim(2, -7)
    ax.set_xticks([-2, 0, 2])
    ax.set_yticks([-6, -4, -2, 0, 2])
    ax.set_xticks(np.arange(-3.5, 3.6, 0.5), minor=True)
    ax.set_yticks(np.arange(-6.5, 2, 0.5), minor=True)
    ax.set_xticklabels(['\u22122', '0', '2'])
    ax.set_yticklabels(['\u22126', '\u22124', '\u22122', '0', '2'])
    ax.set_xlabel('')
    ax.set_ylabel('')
    ax.set_axisbelow(False)
    ax.tick_params(which='both', direction='in', top=True, right=True, bottom=True, left=True, color='k',
                   labelcolor='k')
    ax.tick_params(which='major', length=5.5, width=0.9, labelsize=16.5, pad=9)
    ax.tick_params(which='minor', length=2.8, width=0.9)
    for s in ax.spines.values():
        s.set_visible(True)
        s.set_linewidth(1.0)
        s.set_color('k')
    ax.set_title(title, fontsize=17.5, pad=9, color='k')


sns.set_style('white')
plt.rcParams['font.family'] = ['DejaVu Sans']
plt.rcParams['mathtext.fontset'] = 'dejavusans'
plt.rcParams['lines.scale_dashes'] = False

W, H = 1349, 517
fig = plt.figure(figsize=(W / 100, H / 100), dpi=100)
lefts = [46.3, 495, 943.7]
axes = [fig.add_axes([l / W, 1 - 483.3 / H, 396 / W, 442.6 / H]) for l in lefts]

draw_panel(axes[0], gray_t5, 0.4, r'$t$  =    5.0', [contour_t5] + loops_t5,
           center_t5 + side_t5 + mirror(side_t5), dots_t5, core=gray_t5_core)
draw_panel(axes[1], gray_t10, 0.5, r'$t$  =  10.0', [contour_t10],
           center_t10 + side_t10 + mirror(side_t10), dots_upper_t10 + dots_lower)
draw_panel(axes[2], gray_t15, 0.5, r'$t$  =  15.0', [contour_t15, lens_t15, lens2_t15],
           center_t15 + side_t15 + mirror(side_t15), dots_upper_t15 + dots_lower)
axes[1].set_yticklabels([])
axes[2].set_yticklabels([])

fig.savefig('out.png', dpi=100)
